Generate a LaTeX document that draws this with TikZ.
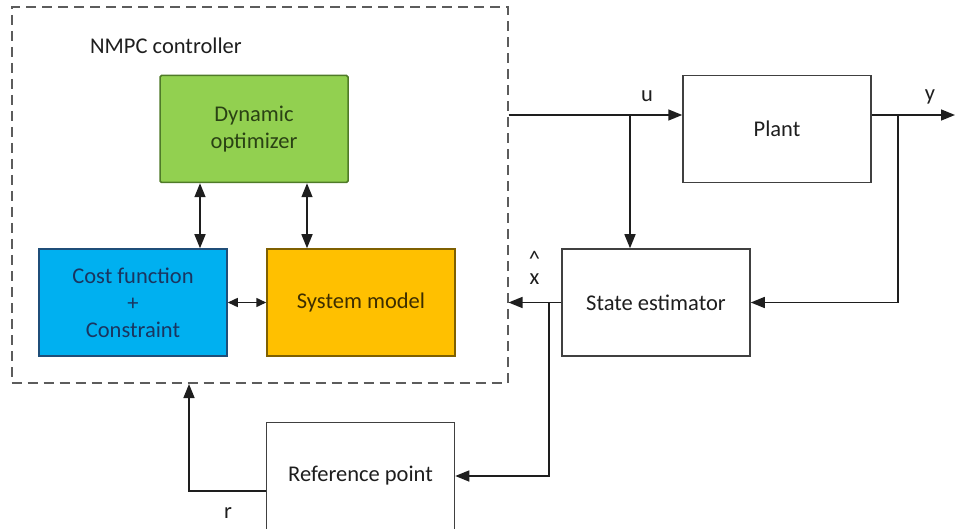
\documentclass[tikz,border=0pt]{standalone}
\usepackage{fontspec}
\setmainfont{Carlito}
\usetikzlibrary{arrows.meta}
\definecolor{optfill}{HTML}{92D050}
\definecolor{optdraw}{HTML}{4F7A28}
\definecolor{opttext}{HTML}{2A4214}
\definecolor{costfill}{HTML}{00B0F0}
\definecolor{costdraw}{HTML}{1F4E79}
\definecolor{costtext}{HTML}{1A3560}
\definecolor{sysfill}{HTML}{FFC000}
\definecolor{sysdraw}{HTML}{7F6000}
\definecolor{systext}{HTML}{3D2E00}
\definecolor{linecol}{HTML}{1E1E1E}
\definecolor{dashcol}{HTML}{5C5C5C}
\begin{document}
\begin{tikzpicture}[x=1pt,y=-1pt,
  txt/.style={font=\fontsize{22.5}{27}\selectfont, text=linecol},
  box/.style={txt, draw=black!75, line width=1.5pt, minimum width=188pt,
    minimum height=107pt, inner sep=0pt, align=center, fill=white},
  ctrlbox/.style={draw=dashcol, line width=2pt, dash pattern=on 10pt off 6pt,
    minimum width=496pt, minimum height=376pt, inner sep=0pt},
  arr/.style={line width=1.5pt, draw=linecol, -{Triangle[length=14pt,width=11pt]}},
  darr/.style={line width=1.5pt, draw=linecol, {Triangle[length=14pt,width=11pt]}-{Triangle[length=14pt,width=11pt]}},
  sarr/.style={line width=1.5pt, draw=linecol, {Triangle[length=10pt,width=9pt]}-{Triangle[length=10pt,width=9pt]}},
  lbl/.style={txt, inner sep=0pt}
]
\useasboundingbox (0,0) rectangle (955,529);
\node[ctrlbox] (ctrl) at (259.5,195) {};
\node[lbl, anchor=base west] (nmpc) at (90,54) {NMPC controller};

\node[box, fill=optfill, draw=optdraw, text=opttext, rounded corners=1.5pt] (opt) at (254,129) {Dynamic\\optimizer};
\node[box, fill=costfill, draw=costdraw, text=costtext] (cost) at (133,302.5) {Cost function\\+\\Constraint};
\node[box, fill=sysfill, draw=sysdraw, text=systext] (sysm) at (361,302.5) {System model};

\node[box] (plant) at (777,129) {Plant};
\node[box] (est) at (656,302.5) {State estimator};
\node[box] (ref) at (360.5,476) {Reference point};

% internal connectors
\draw[darr] ([xshift=-54pt]opt.south) -- ([xshift=67pt]cost.north);
\draw[darr] ([xshift=53pt]opt.south) -- ([xshift=-54pt]sysm.north);
\draw[sarr] (cost.east) -- (sysm.west);

% u
\coordinate (ubr) at (630,115);
\draw[arr] (ctrl.east |- ubr) -- (ubr -| plant.west);
\draw[arr] (ubr) -- (ubr |- est.north);
\node[lbl, anchor=base] (ulbl) at (647,102) {u};

% y
\coordinate (ybr) at (898,115);
\coordinate (yout) at (955,115);
\draw[arr] (ybr -| plant.east) -- (yout);
\draw[arr] (ybr) |- (est.east);
\node[lbl, anchor=base] (ylbl) at (930,101) {y};

% x hat
\coordinate (xbr) at (549,302.5);
\draw[arr] (est.west) -- (ctrl.east |- est.west);
\draw[arr] (xbr) |- (ref.east);
\node[lbl, align=center, font=\fontsize{22.5}{18}\selectfont] (xhat) at (534.5,268) {\textasciicircum\\x};

% r
\draw[arr] ([yshift=-15pt]ref.west) -| ([xshift=-70.5pt]ctrl.south);
\node[lbl, anchor=base] (rlbl) at (228,518) {r};
\end{tikzpicture}
\end{document}
